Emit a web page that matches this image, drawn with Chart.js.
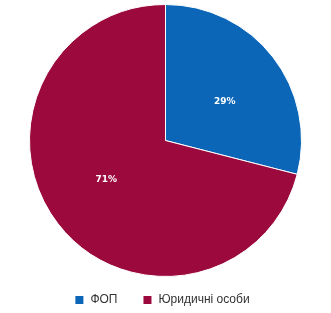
<!DOCTYPE html>
<html>
<head>
<meta charset="utf-8">
<script src="https://cdn.jsdelivr.net/npm/chart.js"></script>
<style>
  html, body { margin: 0; padding: 0; background: #fff; }
  #wrap { width: 331px; height: 313px; }
</style>
</head>
<body>
<div id="wrap"><canvas id="grafico" width="331" height="313"></canvas></div>
<script>
// Dados do gráfico
const categorias = ['ФОП', 'Юридичні особи'];
const valores = [29, 71];
const cores = ['#0b66b8', '#9c0a3d'];

// rótulos de percentagem dentro das fatias
const percentLabels = {
  id: 'percentLabels',
  afterDatasetsDraw(chart) {
    const { ctx } = chart;
    const meta = chart.getDatasetMeta(0);
    const total = valores.reduce((a, b) => a + b, 0);
    ctx.save();
    ctx.font = 'bold 9px "DejaVu Sans", Arial, sans-serif';
    ctx.fillStyle = '#ffffff';
    ctx.textAlign = 'center';
    ctx.textBaseline = 'middle';
    meta.data.forEach((arc, i) => {
      const mid = (arc.startAngle + arc.endAngle) / 2 + 0.08;
      const r = arc.outerRadius * 0.52;
      const x = arc.x + Math.cos(mid) * r;
      const y = arc.y + Math.sin(mid) * r;
      ctx.fillText(Math.round(valores[i] / total * 100) + '%', x, y);
    });
    ctx.restore();
  }
};

// legenda desenhada à mão (espaçamento entre itens maior que o padrão)
const legendaBaixo = {
  id: 'legendaBaixo',
  afterDraw(chart) {
    const { ctx, width, height } = chart;
    const box = 8, gapTxt = 7, gapItem = 26;
    ctx.save();
    ctx.font = '12px Arial, "Liberation Sans", sans-serif';
    ctx.textBaseline = 'middle';
    const larguras = categorias.map(c => ctx.measureText(c).width);
    let total = 0;
    larguras.forEach((w, i) => { total += box + gapTxt + w + (i ? gapItem : 0); });
    let x = width / 2 - 3 - total / 2;
    const y = height - 13;
    categorias.forEach((c, i) => {
      ctx.fillStyle = cores[i];
      ctx.fillRect(x, y - box / 2, box, box);
      ctx.fillStyle = '#333333';
      ctx.fillText(c, x + box + gapTxt, y);
      x += box + gapTxt + larguras[i] + gapItem;
    });
    ctx.restore();
  }
};

new Chart(document.getElementById('grafico'), {
  type: 'pie',
  data: {
    labels: categorias,
    datasets: [{
      data: valores,
      backgroundColor: cores,
      borderColor: '#ffffff',
      borderWidth: 1
    }]
  },
  options: {
    responsive: false,
    animation: false,
    layout: { padding: { top: 4, bottom: 36 } },
    plugins: {
      tooltip: { enabled: false },
      legend: { display: false }
    }
  },
  plugins: [percentLabels, legendaBaixo]
});
</script>
</body>
</html>
